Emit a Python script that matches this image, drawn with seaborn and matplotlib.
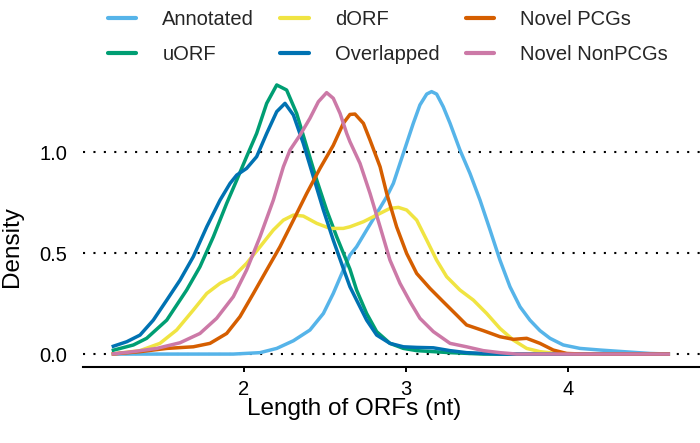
import numpy as np
import pandas as pd
import matplotlib
matplotlib.use("Agg")
import matplotlib.pyplot as plt
import seaborn as sns

# ── Data (log10 ORF length vs density) ─────────────────────────────
SERIES = ["Annotated", "uORF", "dORF", "Overlapped", "Novel PCGs", "Novel NonPCGs"]
COLORS = ["#56B4E9", "#009E73", "#F0E442", "#0072B2", "#D55E00", "#CC79A7"]

annotated_x = [1.183, 1.523, 1.934, 2.099, 2.202, 2.305, 2.407, 2.490, 2.551, 2.613, 2.654,
               2.695, 2.757, 2.819, 2.881, 2.922, 2.963, 3.004, 3.045, 3.086, 3.128, 3.158,
               3.189, 3.230, 3.272, 3.333, 3.395, 3.457, 3.519, 3.580, 3.642, 3.704, 3.765,
               3.827, 3.889, 3.971, 4.074, 4.198, 4.342, 4.506, 4.630]
annotated_y = [0.0, 0.0, 0.0, 0.007, 0.028, 0.066, 0.119, 0.201, 0.300, 0.416, 0.490,
               0.531, 0.614, 0.696, 0.779, 0.845, 0.944, 1.043, 1.142, 1.233, 1.287, 1.299,
               1.287, 1.224, 1.142, 1.010, 0.894, 0.762, 0.614, 0.465, 0.333, 0.234, 0.168,
               0.116, 0.078, 0.045, 0.028, 0.020, 0.012, 0.003, 0.0]

uorf_x = [1.183, 1.317, 1.399, 1.523, 1.646, 1.728, 1.811, 1.893, 1.955, 2.016, 2.078,
          2.140, 2.202, 2.263, 2.325, 2.387, 2.449, 2.510, 2.572, 2.654, 2.695, 2.757,
          2.819, 2.901, 2.984, 3.066, 3.272, 3.477, 4.630]
uorf_y = [0.017, 0.045, 0.078, 0.168, 0.317, 0.432, 0.581, 0.746, 0.861, 0.977, 1.092,
          1.241, 1.332, 1.307, 1.191, 1.026, 0.861, 0.713, 0.581, 0.420, 0.317, 0.201,
          0.111, 0.053, 0.028, 0.017, 0.007, 0.0, 0.0]

dorf_x = [1.183, 1.358, 1.481, 1.584, 1.687, 1.770, 1.852, 1.934, 2.016, 2.099, 2.181,
          2.243, 2.305, 2.366, 2.449, 2.531, 2.613, 2.654, 2.737, 2.819, 2.901, 2.953,
          3.004, 3.066, 3.128, 3.189, 3.251, 3.333, 3.416, 3.498, 3.580, 3.663, 3.745,
          3.827, 3.930, 4.095, 4.630]
dorf_y = [0.0, 0.017, 0.053, 0.119, 0.218, 0.300, 0.350, 0.383, 0.449, 0.531, 0.614,
          0.663, 0.688, 0.683, 0.647, 0.622, 0.622, 0.630, 0.655, 0.688, 0.721, 0.726,
          0.713, 0.663, 0.564, 0.465, 0.383, 0.317, 0.267, 0.201, 0.127, 0.069, 0.028,
          0.012, 0.003, 0.0, 0.0]

overlapped_x = [1.183, 1.276, 1.358, 1.440, 1.523, 1.605, 1.687, 1.770, 1.852, 1.914, 1.955,
                2.016, 2.078, 2.140, 2.202, 2.253, 2.305, 2.366, 2.428, 2.490, 2.551, 2.613,
                2.654, 2.695, 2.757, 2.819, 2.901, 2.984, 3.066, 3.169, 3.272, 3.374, 3.580,
                4.630]
overlapped_y = [0.036, 0.061, 0.094, 0.168, 0.267, 0.366, 0.482, 0.630, 0.762, 0.845, 0.886,
                0.919, 0.977, 1.092, 1.200, 1.241, 1.183, 1.043, 0.878, 0.713, 0.564, 0.424,
                0.333, 0.267, 0.168, 0.094, 0.053, 0.036, 0.033, 0.031, 0.017, 0.007, 0.0,
                0.0]

pcg_x = [1.183, 1.358, 1.523, 1.687, 1.790, 1.893, 1.975, 2.058, 2.140, 2.222, 2.305,
         2.387, 2.469, 2.551, 2.613, 2.654, 2.685, 2.737, 2.778, 2.840, 2.881, 2.942,
         3.004, 3.066, 3.148, 3.230, 3.313, 3.374, 3.477, 3.580, 3.663, 3.745, 3.827,
         3.909, 3.992, 4.095, 4.630]
pcg_y = [0.0, 0.012, 0.028, 0.036, 0.053, 0.102, 0.185, 0.300, 0.416, 0.531, 0.663,
         0.795, 0.919, 1.033, 1.142, 1.186, 1.188, 1.142, 1.059, 0.927, 0.795, 0.630,
         0.498, 0.399, 0.325, 0.259, 0.193, 0.144, 0.116, 0.086, 0.073, 0.078, 0.053,
         0.020, 0.003, 0.0, 0.0]

nonpcg_x = [1.183, 1.317, 1.461, 1.605, 1.728, 1.831, 1.934, 2.016, 2.099, 2.181, 2.243,
            2.284, 2.346, 2.407, 2.459, 2.510, 2.551, 2.593, 2.634, 2.654, 2.716, 2.778,
            2.840, 2.901, 2.963, 3.025, 3.086, 3.169, 3.272, 3.374, 3.477, 3.580, 3.683,
            4.630]
nonpcg_y = [0.0, 0.012, 0.028, 0.056, 0.102, 0.177, 0.284, 0.416, 0.581, 0.762, 0.927,
            1.010, 1.084, 1.167, 1.249, 1.294, 1.266, 1.191, 1.092, 1.051, 0.944, 0.795,
            0.630, 0.465, 0.350, 0.259, 0.177, 0.111, 0.053, 0.036, 0.017, 0.007, 0.0,
            0.0]

XS = [annotated_x, uorf_x, dorf_x, overlapped_x, pcg_x, nonpcg_x]
YS = [annotated_y, uorf_y, dorf_y, overlapped_y, pcg_y, nonpcg_y]

df = pd.concat(
    [pd.DataFrame({"x": x, "y": y, "type": name}) for name, x, y in zip(SERIES, XS, YS)],
    ignore_index=True,
)

# ── Style ──────────────────────────────────────────────────────────
sns.set_theme(style="white")
plt.rcParams["font.family"] = ["Liberation Sans", "DejaVu Sans"]

fig = plt.figure(figsize=(7, 4.43), dpi=100)
ax = fig.add_axes([83 / 700, 76 / 443, 617 / 700, 287.7 / 443])

sns.lineplot(
    data=df, x="x", y="y", hue="type", hue_order=SERIES,
    palette=dict(zip(SERIES, COLORS)), sort=False, estimator=None,
    linewidth=2.5, ax=ax, legend=False,
)
for line in ax.lines:
    line.set_solid_joinstyle("round")
    line.set_solid_capstyle("butt")

ax.set_xlim(1.006, 4.815)
ax.set_ylim(-0.064, 1.36)

ax.set_yticks([0.0, 0.5, 1.0])
ax.set_yticklabels(["0.0", "0.5", "1.0"])
ax.set_xticks([2, 3, 4])
ax.yaxis.grid(True, color="black", linestyle=(0, (1, 4)), linewidth=1.5)
ax.xaxis.grid(False)
ax.set_axisbelow(True)

for s in ["top", "left", "right"]:
    ax.spines[s].set_visible(False)
ax.spines["bottom"].set_color("black")
ax.spines["bottom"].set_linewidth(1.5)

ax.tick_params(axis="y", length=0, pad=11.5, labelsize=14.5, labelcolor="black")
ax.tick_params(axis="x", length=3.5, width=1.4, color="black", direction="out",
               pad=6, labelsize=14.5, labelcolor="black", bottom=True)

ax.set_xlabel("Length of ORFs (nt)", fontsize=17.5, color="black")
ax.set_ylabel("Density", fontsize=17.5, color="black")
ax.xaxis.set_label_coords(0.439, -0.108)
ax.yaxis.set_label_coords(-0.097, 0.42)

handles = [plt.Line2D([], [], color=c, lw=3) for c in COLORS]
fig.legend(
    handles, SERIES, ncol=3, loc="upper left", bbox_to_anchor=(108 / 700, 1 - 10 / 443),
    frameon=False, fontsize=14.5, handlelength=1.4, handletextpad=1.3,
    columnspacing=1.3, labelspacing=0.8, borderpad=0, borderaxespad=0,
)

fig.savefig("out.png", dpi=100)
plt.close()
